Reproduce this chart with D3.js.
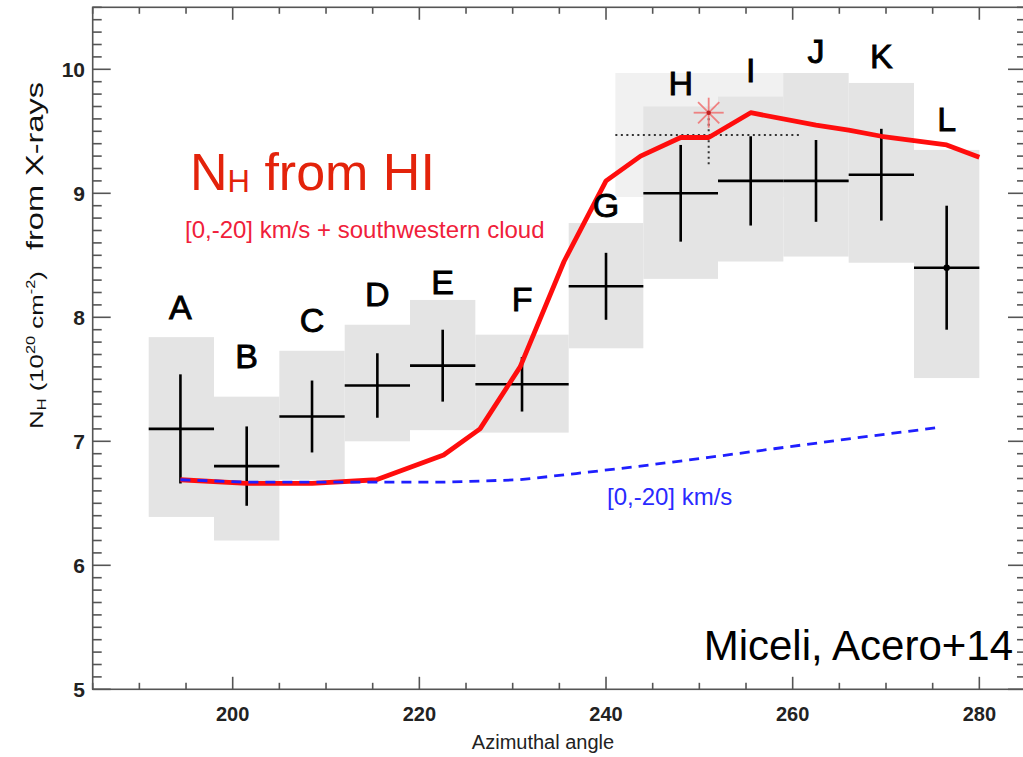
<!DOCTYPE html>
<html>
<head>
<meta charset="utf-8">
<script src="https://cdn.jsdelivr.net/npm/d3@7"></script>
<style>
  body { margin: 0; background: #fff; }
  svg { display: block; }
  text { font-family: "Liberation Sans", Arial, sans-serif; }
</style>
</head>
<body>
<div id="chart"></div>
<script>
// region names and their azimuth ranges
var regions = ["A","B","C","D","E","F","G","H","I","J","K","L"];
var angLo   = [191, 198, 205, 212, 219, 226, 236, 244, 252, 259, 266, 273];
var angHi   = [198, 205, 212, 219, 226, 236, 244, 252, 259, 266, 273, 280];
var angMid  = [194.4, 201.5, 208.5, 215.5, 222.5, 231, 240, 248, 255.5, 262.5, 269.5, 276.5];
// N_H from X-rays (1e20 cm^-2) with statistical error
var nhX     = [7.10, 6.80, 7.20, 7.45, 7.61, 7.46, 8.25, 9.00, 9.10, 9.10, 9.15, 8.40];
var nhErr   = [0.44, 0.32, 0.29, 0.26, 0.29, 0.22, 0.27, 0.39, 0.36, 0.33, 0.37, 0.50];
// shaded systematic range
var sysTop  = [7.84, 7.36, 7.73, 7.94, 8.14, 7.86, 8.76, 9.70, 9.78, 9.97, 9.89, 9.35];
var sysBot  = [6.39, 6.20, 6.69, 7.00, 7.09, 7.07, 7.75, 8.31, 8.45, 8.49, 8.44, 7.51];
// where the region letters sit (N_H units)
var labelNh = [7.99, 7.59, 7.88, 8.09, 8.19, 8.05, 8.81, 9.79, 9.90, 10.05, 10.01, 9.50];

// N_H from HI, [0,-20] km/s + southwestern cloud
var hiAng = [194.4, 201.5, 208.5, 215.4, 222.6, 226.5, 230.8, 235.5, 240, 243.7, 248, 251, 255.5, 262.5, 266, 269.5, 276.5, 280];
var hiNh  = [6.69, 6.66, 6.66, 6.69, 6.89, 7.10, 7.60, 8.45, 9.10, 9.30, 9.45, 9.45, 9.65, 9.55, 9.51, 9.46, 9.39, 9.29];
// N_H from HI, [0,-20] km/s only
var hi0Ang = [194.4, 201.5, 208.5, 215.4, 222.6, 230.8, 236.8, 243.7, 251, 258, 265, 275.5];
var hi0Nh  = [6.69, 6.67, 6.67, 6.67, 6.67, 6.69, 6.74, 6.80, 6.87, 6.94, 7.01, 7.11];

// extra measurement (star) and its range
var starAng = 251, starNh = 9.65;
var extraNh = 9.47, extraLo = 241, extraHi = 261, extraErr = 0.5;
var extraVLo = 9.22;

var xTicks = [200, 220, 240, 260, 280];
var yTicks = [5, 6, 7, 8, 9, 10];

var W = 1023, H = 757;
var svg = d3.select("#chart").append("svg")
    .attr("width", W)
    .attr("height", H);

var x = d3.scaleLinear().domain([185, 285]).range([92.7, 1026]);
var y = d3.scaleLinear().domain([5, 10.5]).range([689.3, 7.3]);

var idx = d3.range(regions.length);

// light box behind everything
svg.append("rect")
    .attr("x", x(extraLo)).attr("width", x(extraHi) - x(extraLo))
    .attr("y", y(extraNh + extraErr)).attr("height", y(extraNh - extraErr) - y(extraNh + extraErr))
    .attr("fill", "#f1f1f1");

// shaded boxes
svg.append("g").selectAll("rect")
  .data(idx).enter().append("rect")
    .attr("x", function(i) { return x(angLo[i]); })
    .attr("width", function(i) { return x(angHi[i]) - x(angLo[i]); })
    .attr("y", function(i) { return y(sysTop[i]); })
    .attr("height", function(i) { return y(sysBot[i]) - y(sysTop[i]); })
    .attr("fill", "#e4e4e4");

// crosses
var cr = svg.append("g").attr("stroke", "#000").attr("stroke-width", 2.6);
cr.selectAll("line.h").data(idx).enter().append("line")
    .attr("class", "h")
    .attr("x1", function(i) { return x(angLo[i]); })
    .attr("x2", function(i) { return x(angHi[i]); })
    .attr("y1", function(i) { return y(nhX[i]); })
    .attr("y2", function(i) { return y(nhX[i]); });
cr.selectAll("line.v").data(idx).enter().append("line")
    .attr("class", "v")
    .attr("x1", function(i) { return x(angMid[i]); })
    .attr("x2", function(i) { return x(angMid[i]); })
    .attr("y1", function(i) { return y(nhX[i] + nhErr[i]); })
    .attr("y2", function(i) { return y(nhX[i] - nhErr[i]); });
svg.append("circle")
    .attr("cx", x(angMid[11])).attr("cy", y(nhX[11])).attr("r", 3.2).attr("fill", "#000");

// dotted lines for the extra point
svg.append("line")
    .attr("x1", x(extraLo)).attr("x2", x(extraHi))
    .attr("y1", y(extraNh)).attr("y2", y(extraNh))
    .attr("stroke", "#333").attr("stroke-width", 2).attr("stroke-dasharray", "2,3.5");
svg.append("line")
    .attr("x1", x(starAng)).attr("x2", x(starAng))
    .attr("y1", y(starNh)).attr("y2", y(extraVLo))
    .attr("stroke", "#333").attr("stroke-width", 2).attr("stroke-dasharray", "2,3.5");

// red HI line
var line = d3.line()
    .x(function(d) { return x(d[0]); })
    .y(function(d) { return y(d[1]); });
svg.append("path")
    .datum(d3.zip(hiAng, hiNh))
    .attr("d", line)
    .attr("fill", "none").attr("stroke", "#ff0d0d").attr("stroke-width", 4.8)
    .attr("stroke-linejoin", "round");

// blue dashed line
svg.append("path")
    .datum(d3.zip(hi0Ang, hi0Nh))
    .attr("d", line)
    .attr("fill", "none").attr("stroke", "#1f1fff").attr("stroke-width", 2.8)
    .attr("stroke-dasharray", "10,7");

// star
var sx = x(starAng), sy = y(starNh), sr = 15;
var star = svg.append("g").attr("stroke", "#f07070").attr("stroke-width", 1.8).attr("opacity", 0.85);
[0, 45, 90, 135].forEach(function(a) {
  var r = a * Math.PI / 180;
  star.append("line")
    .attr("x1", sx - sr * Math.cos(r)).attr("y1", sy - sr * Math.sin(r))
    .attr("x2", sx + sr * Math.cos(r)).attr("y2", sy + sr * Math.sin(r));
});
svg.append("circle").attr("cx", sx).attr("cy", sy).attr("r", 2.2).attr("fill", "#c02020");

// region letters
svg.append("g").selectAll("text")
  .data(idx).enter().append("text")
    .attr("x", function(i) { return x(angMid[i]); })
    .attr("y", function(i) { return y(labelNh[i]); })
    .attr("text-anchor", "middle")
    .attr("font-size", 34)
    .attr("fill", "#000").attr("stroke", "#000").attr("stroke-width", 0.9)
    .text(function(i) { return regions[i]; });

// frame and ticks
var x0 = x(185), x1 = x(285), y0 = y(5), y1 = y(10.5);
var ax = svg.append("g").attr("stroke", "#555").attr("stroke-width", 1.6);
ax.append("rect").attr("x", x0).attr("y", y1).attr("width", x1 - x0).attr("height", y0 - y1).attr("fill", "none");
d3.range(185, 286, 5).forEach(function(v) {
  var L = (v % 20 === 0) ? 12.5 : 6.5;
  ax.append("line").attr("x1", x(v)).attr("x2", x(v)).attr("y1", y0).attr("y2", y0 - L);
  ax.append("line").attr("x1", x(v)).attr("x2", x(v)).attr("y1", y1).attr("y2", y1 + L);
});
d3.range(50, 106, 1).forEach(function(k) {
  var v = k / 10;
  var L = (k % 10 === 0) ? 18 : 9;
  ax.append("line").attr("x1", x0).attr("x2", x0 + L).attr("y1", y(v)).attr("y2", y(v));
  ax.append("line").attr("x1", x1).attr("x2", x1 - L).attr("y1", y(v)).attr("y2", y(v));
});

// tick labels
svg.append("g").selectAll("text").data(xTicks).enter().append("text")
    .attr("x", function(d) { return x(d); })
    .attr("y", 721)
    .attr("text-anchor", "middle")
    .attr("font-size", 20).attr("font-weight", "bold").attr("fill", "#222")
    .text(function(d) { return d; });
svg.append("g").selectAll("text").data(yTicks).enter().append("text")
    .attr("x", 85)
    .attr("y", function(d) { return y(d) + 7.5; })
    .attr("text-anchor", "end")
    .attr("font-size", 21).attr("font-weight", "bold").attr("fill", "#222")
    .text(function(d) { return d; });

svg.append("text")
    .attr("x", 543).attr("y", 749)
    .attr("text-anchor", "middle").attr("font-size", 20).attr("fill", "#222")
    .text("Azimuthal angle");

// y axis title, two parts stretched to the reference extent
function fitLen(t, len) {
  var n = t.node().getComputedTextLength();
  t.attr("transform", "scale(" + (len / n) + ",1)");
}
var yg1 = svg.append("g").attr("transform", "translate(43,429) rotate(-90)");
var yt = yg1.append("text").attr("fill", "#111");
yt.append("tspan").attr("font-size", 19).text("N");
yt.append("tspan").attr("font-size", 12).attr("dy", 3).text("H");
yt.append("tspan").attr("font-size", 19).attr("dy", -3).text(" (10");
yt.append("tspan").attr("font-size", 12).attr("dy", -8).text("20");
yt.append("tspan").attr("font-size", 19).attr("dy", 8).text(" cm");
yt.append("tspan").attr("font-size", 12).attr("dy", -8).text("-2");
yt.append("tspan").attr("font-size", 19).attr("dy", 8).text(")");
fitLen(yt, 158);
var yg2 = svg.append("g").attr("transform", "translate(43,250) rotate(-90)");
var yt2 = yg2.append("text").attr("fill", "#111").attr("font-size", 23).text("from X-rays");
fitLen(yt2, 168);

// annotations
var t1 = svg.append("text").attr("x", 190).attr("y", 190).attr("fill", "#e3230b");
t1.append("tspan").attr("font-size", 52).text("N");
t1.append("tspan").attr("font-size", 31).attr("dy", 2).text("H");
t1.append("tspan").attr("font-size", 52).attr("dy", -2).text(" from HI");

svg.append("text")
    .attr("x", 185).attr("y", 238)
    .attr("font-size", 24).attr("fill", "#f0203a")
    .text("[0,-20] km/s + southwestern cloud");

svg.append("text")
    .attr("x", 607).attr("y", 505)
    .attr("font-size", 24).attr("fill", "#2a2aff")
    .text("[0,-20] km/s");

svg.append("text")
    .attr("x", 1013).attr("y", 660)
    .attr("text-anchor", "end")
    .attr("font-size", 42).attr("fill", "#000")
    .text("Miceli, Acero+14");
</script>
</body>
</html>
